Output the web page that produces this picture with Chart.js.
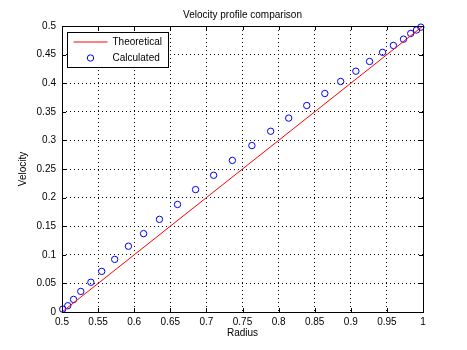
<!DOCTYPE html>
<html>
<head>
<meta charset="utf-8">
<script src="https://cdn.jsdelivr.net/npm/chart.js@4.4.0/dist/chart.umd.min.js"></script>
<style>
  html, body { margin: 0; padding: 0; background: #fff; }
  canvas { display: block; }
</style>
</head>
<body>
<canvas id="myChart" width="467" height="350"></canvas>
<script>
// theoretical profile (straight line)
const theoryRadius = [0.5, 0.75, 1];
const theoryVelocity = [0, 0.25, 0.5];

// calculated points
const calcRadius = [0.501, 0.508, 0.516, 0.526, 0.540, 0.555, 0.573, 0.592, 0.613, 0.635,
  0.660, 0.685, 0.710, 0.736, 0.763, 0.789, 0.814, 0.839, 0.864, 0.886,
  0.907, 0.926, 0.944, 0.959, 0.973, 0.983, 0.991, 0.997];
const calcVelocity = [0.005, 0.011, 0.022, 0.036, 0.052, 0.071, 0.092, 0.115, 0.137, 0.162,
  0.188, 0.214, 0.239, 0.265, 0.291, 0.316, 0.339, 0.361, 0.382, 0.403,
  0.421, 0.438, 0.454, 0.466, 0.477, 0.487, 0.493, 0.498];

const xTickLabels = ['0.5', '0.55', '0.6', '0.65', '0.7', '0.75', '0.8', '0.85', '0.9', '0.95', '1'];
const yTickLabels = ['0', '0.05', '0.1', '0.15', '0.2', '0.25', '0.3', '0.35', '0.4', '0.45', '0.5'];

const FONT = 'Liberation Sans, Arial, Helvetica, sans-serif';

function toPoints(xs, ys) {
  let pts = [];
  for (let i = 0; i < xs.length; i++) {
    pts.push({x: xs[i], y: ys[i]});
  }
  return pts;
}

const data = {
  datasets: [
    {
      label: 'Theoretical',
      type: 'line',
      data: toPoints(theoryRadius, theoryVelocity),
      borderColor: '#ff0000',
      borderWidth: 1,
      pointRadius: 0,
      tension: 0
    },
    {
      label: 'Calculated',
      type: 'scatter',
      data: toPoints(calcRadius, calcVelocity),
      borderColor: '#0000ff',
      backgroundColor: 'rgba(0,0,0,0)',
      borderWidth: 1,
      pointRadius: 3.2,
      clip: false
    }
  ]
};

// white page, box round the axes, inward ticks
const boxPlugin = {
  id: 'box',
  beforeDraw(chart) {
    const ctx = chart.ctx;
    ctx.save();
    ctx.fillStyle = '#fff';
    ctx.fillRect(0, 0, chart.width, chart.height);
    ctx.restore();
  },
  afterDatasetsDraw(chart) {
    const ctx = chart.ctx;
    const a = chart.chartArea;
    const xs = chart.scales.x;
    const ys = chart.scales.y;
    ctx.save();
    ctx.strokeStyle = '#000';
    ctx.lineWidth = 1;
    ctx.beginPath();
    xs.ticks.forEach(t => {
      const px = Math.round(xs.getPixelForValue(t.value)) + 0.5;
      ctx.moveTo(px, a.bottom); ctx.lineTo(px, a.bottom - 4);
      ctx.moveTo(px, a.top); ctx.lineTo(px, a.top + 4);
    });
    ys.ticks.forEach(t => {
      const py = Math.round(ys.getPixelForValue(t.value)) + 0.5;
      ctx.moveTo(a.left, py); ctx.lineTo(a.left + 4, py);
      ctx.moveTo(a.right, py); ctx.lineTo(a.right - 4, py);
    });
    ctx.stroke();
    ctx.strokeRect(Math.round(a.left) + 0.5, Math.round(a.top) + 0.5,
      Math.round(a.right - a.left), Math.round(a.bottom - a.top));
    ctx.restore();
  },
  afterDraw(chart) {
    // legend inside the axes, top left
    const ctx = chart.ctx;
    const a = chart.chartArea;
    const bx = Math.round(a.left) + 5.5, by = Math.round(a.top) + 6.5;
    const bw = 101, bh = 35;
    ctx.save();
    ctx.fillStyle = '#fff';
    ctx.fillRect(bx, by, bw, bh);
    ctx.strokeStyle = '#000';
    ctx.lineWidth = 1;
    ctx.strokeRect(bx, by, bw, bh);
    ctx.font = '10px ' + FONT;
    ctx.fillStyle = '#000';
    ctx.textBaseline = 'middle';
    const ds = chart.data.datasets;
    const row1 = by + 9.5, row2 = by + 25.5;
    ctx.strokeStyle = ds[0].borderColor;
    ctx.beginPath();
    ctx.moveTo(bx + 6, row1); ctx.lineTo(bx + 40, row1);
    ctx.stroke();
    ctx.strokeStyle = ds[1].borderColor;
    ctx.beginPath();
    ctx.arc(bx + 23, row2, 3.2, 0, Math.PI * 2);
    ctx.stroke();
    ctx.fillText(ds[0].label, bx + 45, row1 + 0.5);
    ctx.fillText(ds[1].label, bx + 45, row2 + 0.5);
    ctx.restore();
  }
};

const config = {
  type: 'scatter',
  data: data,
  plugins: [boxPlugin],
  options: {
    responsive: false,
    animation: false,
    layout: {
      padding: {left: 0, right: 44, top: 0, bottom: 0}
    },
    plugins: {
      legend: {display: false},
      tooltip: {enabled: false},
      title: {
        display: true,
        fullSize: false,
        text: 'Velocity profile comparison',
        color: '#000',
        font: {family: FONT, size: 10, weight: 'normal'},
        padding: {top: 9, bottom: 5}
      }
    },
    scales: {
      x: {
        type: 'linear',
        min: 0.5,
        max: 1,
        afterFit(s) { s.height = 38; },
        ticks: {
          stepSize: 0.05,
          color: '#000',
          padding: 4,
          maxRotation: 0,
          autoSkip: false,
          font: {family: FONT, size: 10},
          callback: (v, i) => xTickLabels[i]
        },
        grid: {color: '#000', lineWidth: 1, drawTicks: false},
        border: {display: false, dash: [1, 3]},
        title: {
          display: true,
          text: 'Radius',
          color: '#000',
          font: {family: FONT, size: 10},
          padding: {top: 0, bottom: 11}
        }
      },
      y: {
        type: 'linear',
        min: 0,
        max: 0.5,
        afterFit(s) { s.width = 62; },
        ticks: {
          stepSize: 0.05,
          color: '#000',
          padding: 6,
          autoSkip: false,
          font: {family: FONT, size: 10},
          callback: (v, i) => yTickLabels[i]
        },
        grid: {color: '#000', lineWidth: 1, drawTicks: false},
        border: {display: false, dash: [1, 3]},
        title: {
          display: true,
          text: 'Velocity',
          color: '#000',
          font: {family: FONT, size: 10},
          padding: {top: 17, bottom: 0}
        }
      }
    }
  }
};

const myChart = new Chart(document.getElementById('myChart'), config);
</script>
</body>
</html>
